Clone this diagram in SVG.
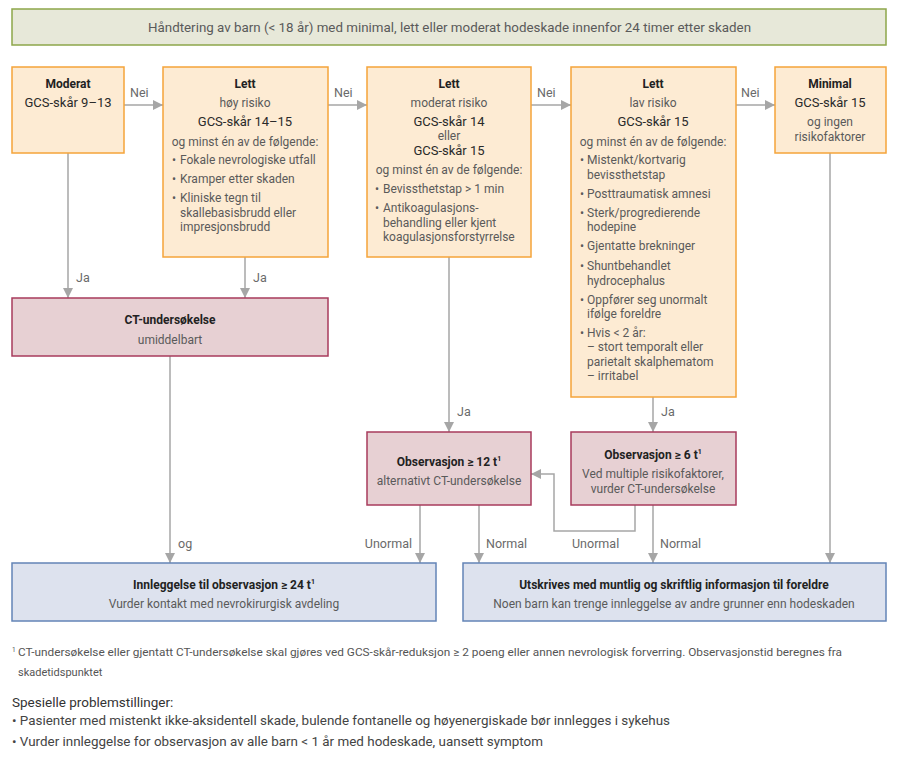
<svg xmlns="http://www.w3.org/2000/svg" width="900" height="758" viewBox="0 0 900 758">
<defs>
<marker id="ah" viewBox="0 0 10 10" refX="10" refY="5" markerWidth="10" markerHeight="10" markerUnits="userSpaceOnUse" orient="auto">
<path d="M0,0 L10,5 L0,10 z" fill="#a6a6a6"/>
</marker>
<style>
text{font-family:Roboto,"Liberation Sans",sans-serif;font-size:12px;fill:#5a5a5a}
.c{text-anchor:middle}
.b{font-weight:bold;fill:#222}
.g{fill:#2a2a2a;font-size:13px}
.lbl{fill:#6a6a6a;font-size:12.5px}
.or{fill:#fdebd3;stroke:#f5a43a;stroke-width:1.5}
.rd{fill:#e7d0d3;stroke:#a83b5c;stroke-width:1.5}
.bl{fill:#dde2ee;stroke:#6384b7;stroke-width:1.5}
.ln{fill:none;stroke:#a6a6a6;stroke-width:1.5}
.fn{font-size:11px;fill:#555}
</style>
</defs>
<rect width="900" height="758" fill="#ffffff"/>

<g id="title">
<rect x="12" y="9" width="874" height="36" fill="#e7e8d9" stroke="#8da64a" stroke-width="1.5"/>
<text x="148" y="31.5" style="font-size:13.5px" textLength="603" lengthAdjust="spacingAndGlyphs">Håndtering av barn (&lt; 18 år) med minimal, lett eller moderat hodeskade innenfor 24 timer etter skaden</text>
</g>

<g id="connectors">
<line class="ln" x1="124" y1="105" x2="163" y2="105" marker-end="url(#ah)"/>
<line class="ln" x1="328" y1="105" x2="367" y2="105" marker-end="url(#ah)"/>
<line class="ln" x1="531" y1="105" x2="571" y2="105" marker-end="url(#ah)"/>
<line class="ln" x1="736" y1="105" x2="775" y2="105" marker-end="url(#ah)"/>
<line class="ln" x1="68" y1="153" x2="68" y2="298" marker-end="url(#ah)"/>
<line class="ln" x1="245" y1="257" x2="245" y2="298" marker-end="url(#ah)"/>
<line class="ln" x1="449" y1="257" x2="449" y2="432" marker-end="url(#ah)"/>
<line class="ln" x1="653" y1="397" x2="653" y2="432" marker-end="url(#ah)"/>
<line class="ln" x1="170" y1="356" x2="170" y2="563" marker-end="url(#ah)"/>
<line class="ln" x1="420" y1="505" x2="420" y2="563" marker-end="url(#ah)"/>
<line class="ln" x1="479" y1="505" x2="479" y2="563" marker-end="url(#ah)"/>
<polyline class="ln" points="635,505 635,531 554,531 554,474 531,474" marker-end="url(#ah)"/>
<line class="ln" x1="653" y1="505" x2="653" y2="563" marker-end="url(#ah)"/>
<line class="ln" x1="830" y1="153" x2="830" y2="563" marker-end="url(#ah)"/>
<text class="lbl" x="130" y="97">Nei</text>
<text class="lbl" x="334" y="97">Nei</text>
<text class="lbl" x="537" y="97">Nei</text>
<text class="lbl" x="741" y="97">Nei</text>
<text class="lbl" x="76" y="282">Ja</text>
<text class="lbl" x="253" y="282">Ja</text>
<text class="lbl" x="457" y="416">Ja</text>
<text class="lbl" x="661" y="416">Ja</text>
<text class="lbl" x="178" y="548">og</text>
<text class="lbl" x="412" y="548" text-anchor="end">Unormal</text>
<text class="lbl" x="486" y="548">Normal</text>
<text class="lbl" x="572" y="548">Unormal</text>
<text class="lbl" x="660" y="548">Normal</text>
</g>

<g id="moderat">
<rect class="or" x="12" y="67" width="112" height="86"/>
<text class="c b" x="68" y="88">Moderat</text>
<text class="c g" x="68" y="107">GCS-skår 9–13</text>
</g>

<g id="lett-hoy">
<rect class="or" x="163" y="67" width="165" height="190"/>
<text class="c b" x="245" y="88">Lett</text>
<text class="c" x="245" y="107">høy risiko</text>
<text class="c g" x="245" y="126">GCS-skår 14–15</text>
<text class="c" x="245" y="146">og minst én av de følgende:</text>
<text x="172" y="164">•</text><text x="180" y="164">Fokale nevrologiske utfall</text>
<text x="172" y="183">•</text><text x="180" y="183">Kramper etter skaden</text>
<text x="172" y="202">•</text><text x="180" y="202">Kliniske tegn til</text>
<text x="180" y="217">skallebasisbrudd eller</text>
<text x="180" y="231">impresjonsbrudd</text>
</g>

<g id="lett-moderat">
<rect class="or" x="367" y="67" width="164" height="190"/>
<text class="c b" x="449" y="88">Lett</text>
<text class="c" x="449" y="107">moderat risiko</text>
<text class="c g" x="449" y="126">GCS-skår 14</text>
<text class="c" x="449" y="140">eller</text>
<text class="c g" x="449" y="155">GCS-skår 15</text>
<text class="c" x="449" y="174">og minst én av de følgende:</text>
<text x="375" y="193">•</text><text x="383" y="193">Bevissthetstap &gt; 1 min</text>
<text x="375" y="212">•</text><text x="383" y="212">Antikoagulasjons-</text>
<text x="383" y="227">behandling eller kjent</text>
<text x="383" y="241">koagulasjonsforstyrrelse</text>
</g>

<g id="lett-lav">
<rect class="or" x="571" y="67" width="165" height="330"/>
<text class="c b" x="653" y="88">Lett</text>
<text class="c" x="653" y="107">lav risiko</text>
<text class="c g" x="653" y="126">GCS-skår 15</text>
<text class="c" x="653" y="146">og minst én av de følgende:</text>
<text x="580" y="164">•</text><text x="587" y="164">Mistenkt/kortvarig</text>
<text x="587" y="179">bevissthetstap</text>
<text x="580" y="198">•</text><text x="587" y="198">Posttraumatisk amnesi</text>
<text x="580" y="217">•</text><text x="587" y="217">Sterk/progredierende</text>
<text x="587" y="231">hodepine</text>
<text x="580" y="250">•</text><text x="587" y="250">Gjentatte brekninger</text>
<text x="580" y="270">•</text><text x="587" y="270">Shuntbehandlet</text>
<text x="587" y="285">hydrocephalus</text>
<text x="580" y="304">•</text><text x="587" y="304">Oppfører seg unormalt</text>
<text x="587" y="318">ifølge foreldre</text>
<text x="580" y="337">•</text><text x="587" y="337">Hvis &lt; 2 år:</text>
<text x="587" y="351">– stort temporalt eller</text>
<text x="587" y="366">parietalt skalphematom</text>
<text x="587" y="380">– irritabel</text>
</g>

<g id="minimal">
<rect class="or" x="775" y="67" width="111" height="86"/>
<text class="c b" x="830" y="88">Minimal</text>
<text class="c g" x="830" y="107">GCS-skår 15</text>
<text class="c" x="830" y="126">og ingen</text>
<text class="c" x="830" y="141">risikofaktorer</text>
</g>

<g id="ct">
<rect class="rd" x="12" y="298" width="316" height="58"/>
<text class="c b" x="170" y="324">CT-undersøkelse</text>
<text class="c" x="170" y="344">umiddelbart</text>
</g>

<g id="obs12">
<rect class="rd" x="367" y="432" width="164" height="73"/>
<text class="c b" x="449" y="466">Observasjon ≥ 12 t<tspan dy="-5" style="font-size:7px">1</tspan></text>
<text class="c" x="449" y="485">alternativt CT-undersøkelse</text>
</g>

<g id="obs6">
<rect class="rd" x="571" y="432" width="165" height="73"/>
<text class="c b" x="653" y="459">Observasjon ≥ 6 t<tspan dy="-5" style="font-size:7px">1</tspan></text>
<text class="c" x="653" y="478">Ved multiple risikofaktorer,</text>
<text class="c" x="653" y="493">vurder CT-undersøkelse</text>
</g>

<g id="innleggelse">
<rect class="bl" x="12" y="563" width="424" height="58"/>
<text class="c b" x="224" y="589">Innleggelse til observasjon ≥ 24 t<tspan dy="-5" style="font-size:7px">1</tspan></text>
<text class="c" x="224" y="608">Vurder kontakt med nevrokirurgisk avdeling</text>
</g>

<g id="utskrives">
<rect class="bl" x="463" y="563" width="423" height="58"/>
<text class="c b" x="674" y="589">Utskrives med muntlig og skriftlig informasjon til foreldre</text>
<text class="c" x="674" y="608">Noen barn kan trenge innleggelse av andre grunner enn hodeskaden</text>
</g>

<g id="footnotes">
<text class="fn" x="12" y="652" style="font-size:6.5px">1</text>
<text class="fn" x="18" y="656" textLength="824" lengthAdjust="spacingAndGlyphs">CT-undersøkelse eller gjentatt CT-undersøkelse skal gjøres ved GCS-skår-reduksjon ≥ 2 poeng eller annen nevrologisk forverring. Observasjonstid beregnes fra</text>
<text class="fn" x="18" y="676">skadetidspunktet</text>
<text x="12" y="707" style="font-size:13.5px;fill:#333">Spesielle problemstillinger:</text>
<text x="12" y="725" style="font-size:13px;fill:#444" textLength="658" lengthAdjust="spacingAndGlyphs">• Pasienter med mistenkt ikke-aksidentell skade, bulende fontanelle og høyenergiskade bør innlegges i sykehus</text>
<text x="12" y="746" style="font-size:13px;fill:#444" textLength="531" lengthAdjust="spacingAndGlyphs">• Vurder innleggelse for observasjon av alle barn &lt; 1 år med hodeskade, uansett symptom</text>
</g>
</svg>
